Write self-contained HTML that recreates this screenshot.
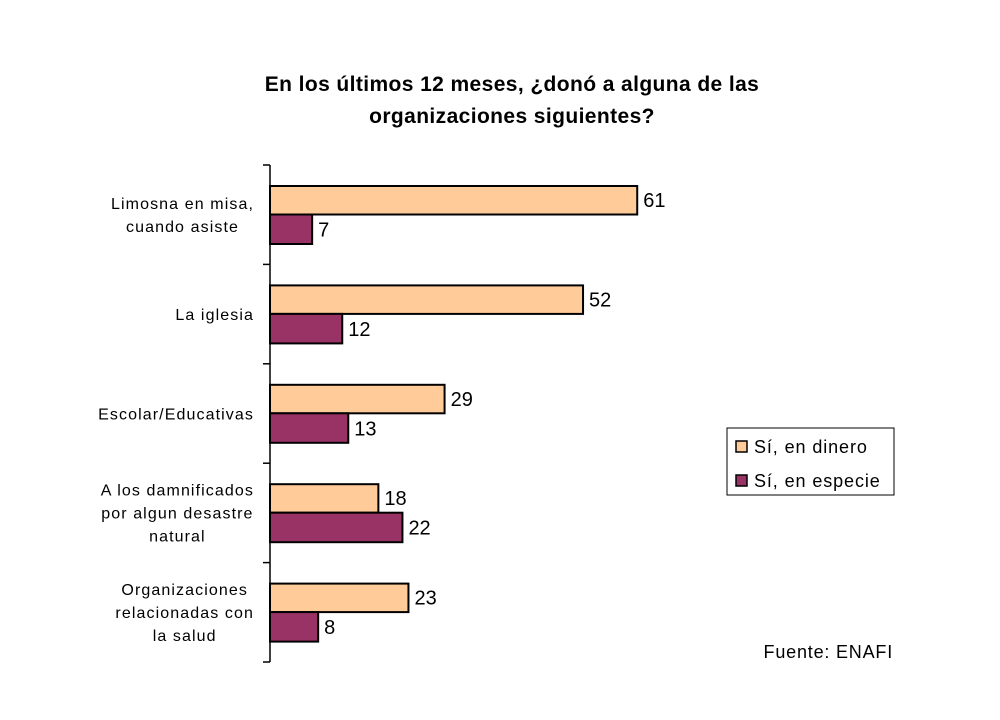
<!DOCTYPE html>
<html><head><meta charset="utf-8"><style>
body{margin:0;background:#fff;}
svg{display:block;font-family:"Liberation Sans",sans-serif;}
</style></head><body>
<svg width="1000" height="720" viewBox="0 0 1000 720">
<rect width="1000" height="720" fill="#fff"/>
<g font-size="21" font-weight="bold" text-anchor="middle" fill="#000" letter-spacing="0.4">
<text x="512" y="91">En los últimos 12 meses, ¿donó a alguna de las</text>
<text x="512" y="123">organizaciones siguientes?</text>
</g>
<g id="plot"></g>
<g>
<rect x="727" y="428" width="167" height="67" fill="#fff" stroke="#000" stroke-width="1"/>
<rect x="736" y="441" width="11" height="11" fill="#FFCC99" stroke="#000" stroke-width="1.5"/>
<text x="754" y="453" font-size="18" letter-spacing="0.9">Sí, en dinero</text>
<rect x="736" y="475" width="11" height="11" fill="#993366" stroke="#000" stroke-width="1.5"/>
<text x="754" y="487" font-size="18" letter-spacing="0.9">Sí, en especie</text>
</g>
<text x="893" y="658" font-size="18" letter-spacing="0.8" text-anchor="end">Fuente: ENAFI</text>
</svg>
<script>
const categories=[["Limosna en misa,","cuando asiste"],["La iglesia"],["Escolar/Educativas"],["A los damnificados","por algun desastre","natural"],["Organizaciones","relacionadas con","la salud"]];
const dinero=[61,52,29,18,23];
const especie=[7,12,13,22,8];
const NS="http://www.w3.org/2000/svg";
const g=document.getElementById('plot');
const x0=270,scale=6.02,top0=165,band=99.4,barH=28.5;
function xs(v){return x0+v*scale;}
function mk(t,a){const e=document.createElementNS(NS,t);for(const k in a)e.setAttribute(k,a[k]);g.appendChild(e);return e;}
const axis=mk('line',{x1:x0,y1:top0,x2:x0,y2:top0+band*categories.length,stroke:'#000','stroke-width':1.5});


for(let i=0;i<=categories.length;i++){
 const t=mk('line',{x1:x0-7,x2:x0,y1:top0+i*band,y2:top0+i*band,stroke:'#000','stroke-width':1.5});
 
 
}
categories.forEach((c,i)=>{
 const yb=top0+i*band;
 const y1=yb+21;
 const r1=mk('rect',{x:x0,y:y1,width:xs(dinero[i])-x0,height:barH,fill:'#FFCC99',stroke:'#000','stroke-width':2});
 
 
 const r2=mk('rect',{x:x0,y:y1+barH,width:xs(especie[i])-x0,height:barH+1,fill:'#993366',stroke:'#000','stroke-width':2});
 
 
 const l1=mk('text',{x:xs(dinero[i])+6,y:y1+21,'font-size':20});
 l1.textContent=dinero[i];
 
 
 const l2=mk('text',{x:xs(especie[i])+6,y:y1+barH+22,'font-size':20});
 l2.textContent=especie[i];
 
 
 const mid=y1+barH;
 const n=c.length,lh=23;
 const els=c.map((s,k)=>{
  const t=mk('text',{x:0,y:mid+6+(k-(n-1)/2)*lh,'font-size':16,'text-anchor':'middle','letter-spacing':'1.1'});
  t.textContent=s;
  
  
  return t;
 });
 let w=0;els.forEach(e=>{w=Math.max(w,e.getComputedTextLength());});
 const cx=254-w/2;
 els.forEach(e=>e.setAttribute('x',cx));
});
</script>
</body></html>
